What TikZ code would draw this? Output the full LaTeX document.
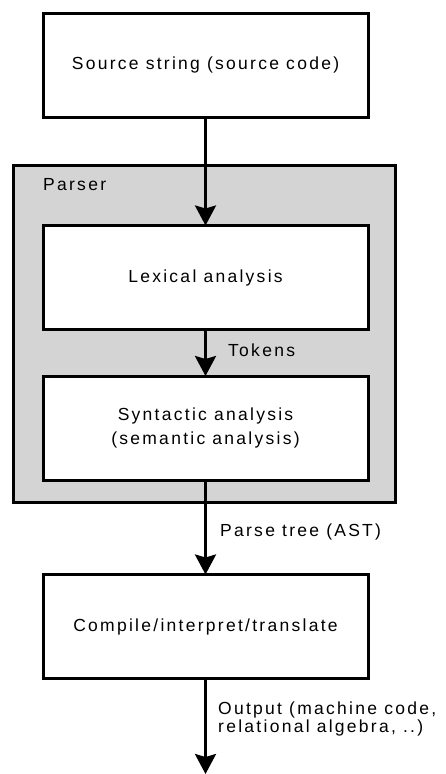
\documentclass[tikz,border=0pt]{standalone}
\usepackage{fontspec}
\setmainfont{Liberation Sans}[LetterSpace=13]
\usetikzlibrary{arrows.meta}
\begin{document}
\begin{tikzpicture}[x=1pt,y=-1pt,
  every node/.style={font=\fontsize{17.5}{24}\selectfont},
  stage/.style={draw, line width=3pt, fill=white, minimum width=325pt,
    minimum height=104pt, inner sep=0pt, outer sep=0pt, align=center},
  group/.style={draw, line width=3pt, fill=black!17, minimum width=382pt,
    minimum height=337pt, inner sep=0pt, outer sep=0pt},
  flow/.style={line width=2.8pt, -{Stealth[length=20pt,width=21pt,inset=3pt]}},
  tag/.style={anchor=west, inner sep=0pt, align=left}
]
\useasboundingbox (0,0) rectangle (446,774);

% parser group
\node[group] (parser) at (204.5,334) {};
\node[tag] (parserlabel) at (43,185) {Parser};

% stages
\node[stage] (src) at (205.5,65) {Source string (source code)};
\node[stage] (lex) at (205.5,277.5) {Lexical analysis};
\node[stage] (syn) at (205.5,428) {Syntactic analysis\\(semantic analysis)};
\node[stage] (out) at (205.5,626.5) {Compile/interpret/translate};
\coordinate (end) at (205.5,774);

% connectors
\draw[flow] (src) -- (lex);
\draw[flow] (lex) -- (syn);
\draw[flow] (syn) -- (out);
\draw[flow] (out) -- (end);

% connector labels
\node[tag] (tokens) at (228,350) {Tokens};
\node[tag] (ast) at (220,532) {Parse tree (AST)};
\node[tag, font=\fontsize{17.5}{18.5}\selectfont] (result) at (218,719)
  {Output (machine code,\\relational algebra, ..)};
\end{tikzpicture}
\end{document}
